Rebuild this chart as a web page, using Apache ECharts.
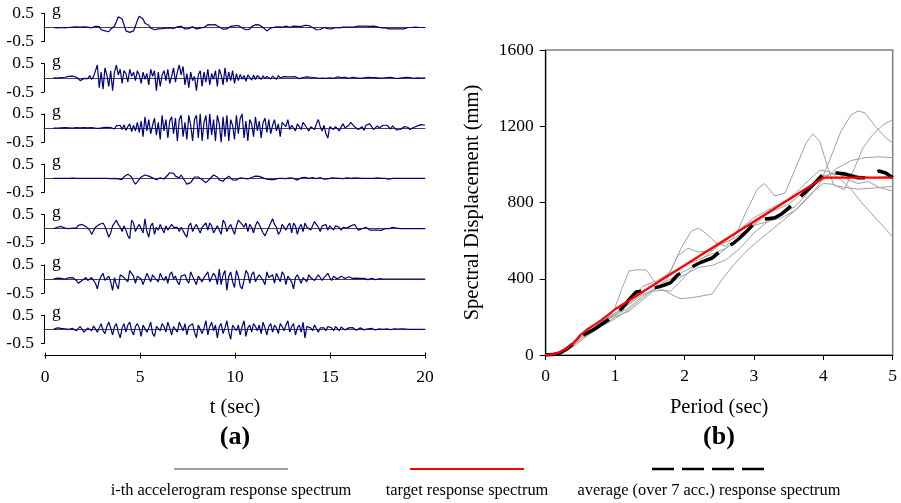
<!DOCTYPE html>
<html><head><meta charset="utf-8">
<script src="https://cdn.jsdelivr.net/npm/echarts@6/dist/echarts.min.js"></script>
<style>html,body{margin:0;padding:0;background:#fff}#c{width:901px;height:503px}</style>
</head><body><div id="c"></div>
<script>
// ---------- DATA ----------
const accT0 = 0.5, accDt = 0.1; // sampling of the accelerograms (s)
const acc1 = [0,0.01,-0.01,0.01,0,
0.01,-0.01,0.02,0,-0.01,0.01,0,0.02,-0.01,0.01,
0,0.02,-0.02,0.01,0.03,-0.01,0.02,0.04,-0.02,0.03,
-0.08,-0.03,-0.12,-0.05,-0.15,-0.06,-0.1,0.05,0.2,0.38,
0.42,0.3,0.1,-0.12,-0.16,-0.17,-0.15,-0.12,0.05,0.25,
0.4,0.42,0.3,0.15,0.1,0.08,-0.02,-0.09,-0.08,-0.04,
-0.05,-0.03,-0.04,0.01,-0.02,0.02,-0.01,0.01,-0.03,0.01,
0.02,-0.02,0.04,-0.03,-0.05,0.02,-0.04,-0.02,0.03,-0.03,
-0.05,0.02,-0.02,0.03,0.01,0.06,0.1,0.08,0.09,0.12,
0.1,0.06,0.02,-0.03,-0.06,-0.08,-0.05,0.01,0.04,0.08,
0.06,0.02,0.07,0.04,-0.02,-0.05,-0.08,-0.04,-0.06,0.03,
0.07,0.1,0.08,0.09,0.05,0,-0.06,-0.12,-0.06,-0.02,
-0.04,0.01,-0.01,0.02,-0.02,0.01,0.04,0.05,0.03,0.01,
0.02,0.05,0.06,0.04,0.01,0.03,0.06,0.08,0.09,0.07,
0.05,0,-0.06,-0.08,-0.09,-0.07,-0.03,0,-0.02,-0.04,
-0.03,-0.05,-0.02,0,0.01,-0.01,0,0.01,0,0.01,
0,0.01,0,0.02,0.04,0.05,0.05,0.05,0.04,0.05,
0.05,0.04,0.05,0.05,0.04,0.02,0,-0.01,0,-0.01,
-0.03,-0.05,-0.06,-0.05,-0.06,-0.05,-0.06,-0.05,-0.04,-0.05,
-0.03,0,0.01,0,0,0.01,0,0,0.01,0,0];
const acc2 = [0,0,-0.01,0,0.01,
-0.01,0.02,0.01,0.05,0.04,0.06,0.03,0.02,-0.05,-0.1,
-0.08,-0.02,0.05,-0.03,0.08,-0.06,0.04,0.1,0.45,-0.35,
0.2,-0.4,0.35,0.1,-0.3,0.25,-0.45,0.2,0.45,0.1,
0.3,-0.2,0.25,0.15,-0.15,0.3,0.05,0.2,-0.1,0.25,
0.1,-0.2,0.2,-0.05,0.15,-0.25,0.3,0.05,0.25,-0.45,
0.2,-0.3,0.1,0.25,-0.1,0.3,-0.2,0.05,0.35,-0.15,
0.2,0.45,0.1,0.4,-0.25,0.15,-0.35,0.2,-0.1,0.05,
-0.45,0.1,0.25,-0.3,0.2,-0.15,0.3,-0.25,0.15,-0.05,
0.25,-0.3,0.3,0.1,-0.25,0.35,-0.15,0.2,-0.1,0.25,
-0.2,0.15,-0.1,0.12,-0.05,0.08,-0.12,0.1,0.05,-0.08,
0.1,-0.06,0.08,0.03,-0.05,0.07,-0.03,0.05,0.02,-0.04,
0.06,0.02,-0.05,0.08,0,-0.03,0.04,-0.02,0.03,-0.04,
0.03,-0.02,0.04,0,-0.03,0.02,0.01,-0.02,0.03,-0.01,
0.02,-0.03,0.01,0.02,-0.02,0.01,-0.01,0.02,-0.02,0.01,
0,0.02,-0.02,0.01,0.03,-0.01,0.01,-0.02,0.02,0,
-0.02,0.01,0.02,-0.01,0,0.02,-0.02,0.01,0,-0.01,
0.02,-0.01,0.01,-0.02,0.01,0,-0.01,0.02,-0.01,0,
0.01,-0.02,0.02,0.03,-0.01,0.01,-0.02,0.01,0,-0.01,
0.02,-0.01,0.01,0.02,-0.02,0.01,0,0.01,-0.01,0,0];
const acc3 = [0,0.01,0,-0.01,0.01,
0,0.02,-0.01,0.01,0.02,0,-0.01,0.02,0,0.01,
-0.01,0.02,0,0.01,-0.01,0.02,0.01,0,0.02,-0.01,
0.01,0.02,0,0.03,-0.02,0.02,0.05,-0.03,0.08,0.02,
0.1,-0.05,0.12,-0.08,0.05,0.15,-0.12,0.1,-0.1,0.2,
-0.15,0.25,-0.3,0.4,-0.1,0.3,-0.2,0.1,0.35,-0.25,
0.2,-0.4,0.45,-0.1,0.3,-0.35,0.25,0.4,-0.2,0.35,
-0.45,0.3,0.45,-0.3,0.2,-0.4,0.45,0.1,-0.45,0.3,
0.45,-0.35,0.5,-0.45,0.2,0.45,-0.4,0.5,-0.25,0.3,
-0.45,0.45,0.15,-0.5,0.4,-0.3,0.45,-0.45,0.3,0.1,
-0.4,0.45,-0.2,0.35,0.5,-0.35,0.25,-0.45,0.3,0.15,
-0.3,0.4,-0.1,0.25,-0.35,0.2,0.35,-0.15,0.3,-0.2,
0.1,0.3,-0.1,0.15,-0.3,0.2,0.25,0.05,0.3,-0.05,
0.1,0.05,-0.1,0.15,0.05,-0.05,0.2,0.1,0.15,-0.1,
0.05,0.1,-0.05,0.15,0.3,0.05,-0.1,0.1,-0.2,-0.35,
0.05,0.1,-0.05,0.05,0.1,-0.1,0.05,0.15,0,-0.05,
0.1,0.2,0.15,0.05,0.1,-0.05,0,0.05,-0.08,0.1,
0.05,0.15,0.1,-0.05,0.02,0.08,0,-0.05,0.1,0.05,
0.1,0.05,-0.03,0.08,0.02,-0.06,-0.1,-0.05,0.02,0.05,
-0.02,0.03,-0.05,0,0.02,0.05,0.08,0.1,0.12,0.15,0.1];
const acc4 = [0,0,0,0,0,
0,0,0,0,0,0.01,0,0,0,0,
0,0,0,0,0,0,0,0,-0.02,0,
0,0,0,0,0,-0.01,0.02,0,-0.03,-0.02,
0.03,-0.04,0.06,0.1,0.15,0.12,0.05,-0.1,-0.2,-0.12,
-0.05,0.05,0.1,0.12,0.15,0.08,0.1,0.02,0.04,-0.05,
-0.03,0.02,0,-0.02,0.05,0.12,0.2,0.15,0.18,0.08,
0.1,0.02,0.12,0.05,-0.1,-0.2,-0.25,-0.15,-0.05,0.05,
0.1,0.05,0.08,-0.05,-0.1,-0.15,-0.08,-0.02,0.05,0.12,
0.1,0.05,-0.05,-0.12,-0.1,-0.02,0.04,0.08,0.05,-0.05,
-0.1,-0.06,-0.02,0.02,-0.01,0,0.02,-0.02,0.01,0.03,
0.05,0.08,0.06,0.07,0.04,0.02,0,-0.03,-0.05,-0.04,
-0.06,-0.04,-0.02,0,0.01,0,-0.02,-0.01,0.01,0.02,
0.01,0,-0.04,-0.06,-0.02,0.02,0.03,0.04,0.02,0,
0.02,0.03,0.01,-0.01,0.02,0.03,0.01,-0.03,-0.05,-0.02,
0,0.02,0.03,0.01,0.02,0,-0.02,-0.01,0,0.02,
0.01,0,0,0.02,0.03,0.01,0,0,0.01,0,
0,0,0.01,0,0,0.02,0.03,0,0,0,
-0.02,-0.03,-0.02,0,0,0,0,0,0,0,
0,0,0,0,0,0,0,0,0,0,0];
const acc5 = [0,0.02,0.05,0.12,0.08,
0.05,0.02,0.04,0,0.06,0.02,-0.02,0.03,0.12,0.05,
0.15,0.1,0.08,0.12,-0.05,-0.2,-0.15,0.05,0.1,0.15,
0.18,0.2,0.08,-0.1,-0.3,-0.15,0.1,0.2,0.3,0.15,
0.05,-0.1,0.1,-0.05,-0.25,-0.35,0.3,0.2,-0.1,0.05,
0.15,0.1,-0.15,0.35,-0.1,-0.3,0.1,0.2,-0.2,0.05,
-0.05,0.15,0.2,-0.15,0.1,-0.05,0.05,0.15,0.05,0.1,
0.05,-0.1,0.05,0.1,-0.2,-0.3,0.1,0.2,-0.1,0.05,
0.15,0.1,-0.15,0.05,0.1,0.2,-0.05,0.2,0.1,-0.15,
-0.2,0.1,0.15,-0.2,0.3,0.2,-0.1,0.05,0.15,0.2,
-0.2,0.1,0.3,0.35,0.15,0.05,0.2,-0.1,0.15,0.05,
-0.15,0.1,0.25,0.15,0.1,-0.15,-0.25,-0.1,0.05,0.1,
0.35,0.15,0.05,-0.2,-0.1,0.15,0.1,-0.05,0.1,0.2,
-0.15,0.2,0.1,-0.2,0.05,0.15,-0.1,0.2,0.05,0.1,
-0.05,0.1,0.25,0.15,0.05,-0.1,0.1,0.05,0.15,-0.05,
0.1,0.05,-0.05,0.1,0.15,0.05,-0.05,0.05,0.1,0.02,
0.08,0.1,0.05,0.15,0.05,-0.05,0.02,0,-0.05,0.05,
0,-0.05,-0.08,-0.05,-0.1,-0.05,-0.08,-0.06,-0.04,0,
0.02,0,0.03,0.05,0,0.02,0,0,0,0,
0,0,0,0,0,0,0,0,0,0,0];
const acc6 = [0,0.02,0.03,0.01,0.02,
0.03,0,-0.02,0.04,0.02,0.05,0.03,-0.05,-0.15,-0.2,
-0.05,0,0.05,-0.05,-0.1,0.05,0.08,-0.15,-0.35,-0.05,
0.1,0.2,-0.05,0,0.1,-0.1,-0.4,0.05,-0.2,-0.35,
0.15,0.1,0.05,0.1,-0.1,0.3,0.2,0.1,-0.15,0.1,
0.05,0,-0.2,-0.15,0.2,0.05,-0.1,0.15,0.05,0.1,
-0.1,0.2,0.05,-0.05,0.1,-0.15,0.15,0.25,0,0.1,
-0.1,-0.2,0.1,0.05,0.15,-0.05,-0.15,0.25,0.1,-0.05,
-0.2,0.1,0.15,-0.1,0.05,0.15,0.25,-0.1,0.05,0.2,
0.1,-0.2,0.35,-0.2,0.15,0.3,-0.4,0.1,0.25,-0.1,
-0.3,0.3,0.1,-0.25,-0.35,-0.05,0.3,0.2,-0.15,0.15,
0.25,-0.1,0.05,0.15,0.1,-0.05,-0.2,0.25,0.05,0.1,
0.15,-0.15,0.2,0.05,-0.1,0.25,0.15,-0.2,0.1,0.05,
-0.1,-0.35,0.05,0.15,0.1,-0.15,0.05,0.1,-0.1,0.15,
0.05,0.1,-0.05,0.05,0.15,0.1,-0.05,0.05,0.1,0.2,
0.05,-0.05,0.1,0.05,0,-0.05,0.1,0.05,0.02,0.05,
0.08,0.05,0.02,0.05,0.03,0,0.02,0.04,0.02,0,
-0.02,0,0.02,0,-0.02,0,0.01,-0.02,0,0.02,
0,-0.02,0,0.02,0,-0.01,0,0,0,0,
0,0,0,0,0,0,0,0,0,0,0];
const acc7 = [0,0.02,0.05,0.1,0.03,
-0.02,0.02,0.05,0,-0.05,0.03,0.08,-0.05,0.02,0.1,
0.05,-0.1,-0.15,0.05,0.1,-0.05,0.12,0.15,-0.1,0.05,
0.2,-0.05,-0.15,0.1,0.25,0.05,-0.2,0.1,0.2,-0.1,
-0.3,0.05,0.2,-0.1,0.15,0.25,-0.05,-0.2,0.1,0.2,
0.05,-0.25,0.15,0.2,-0.1,0.05,0.25,-0.15,-0.25,0.1,
0.15,-0.05,0.2,0.1,-0.1,0.25,0.05,-0.2,0.1,0.15,
-0.1,0.25,0.1,-0.05,0.2,-0.2,0.1,0.05,0.2,-0.1,
-0.3,0.15,0.2,-0.15,0.05,0.3,-0.2,0.1,0.25,-0.05,
0.15,-0.3,0.1,0.2,-0.15,0.05,0.3,-0.1,-0.35,0.15,
0.2,-0.05,0.15,-0.2,0.1,0.3,-0.25,0.05,0.15,-0.1,
0.2,0.1,-0.05,0.15,-0.15,0.25,0.05,-0.2,0.1,0.2,
-0.1,0.15,0.05,-0.15,0.2,0.1,-0.05,0.15,0.3,-0.1,
0.1,0.2,-0.2,0.05,0.15,-0.1,0.25,-0.3,0.1,0.15,
0.05,-0.05,0.15,0.1,-0.1,0.05,0.1,0.05,-0.05,0.1,
0.15,0.05,-0.05,0.1,0.05,-0.05,0.08,0.05,-0.02,0.05,
0.05,0.02,0.06,0.03,-0.03,0.02,0.05,0.02,-0.02,0.03,
0.02,0.01,0.03,0,-0.02,0,0.02,0.01,0,0.01,
0.02,0,-0.01,0.01,0.02,0,0.01,0,0.02,0.03,
0.01,0,0,0,0,0,0,0,0,0,0];
const accelerograms = [acc1, acc2, acc3, acc4, acc5, acc6, acc7];
const accTicks = [-0.5, 0.5];
const accUnit = 'g';

// response spectra: [period (s), spectral displacement (mm)]
const spec1 = [[0,0],[0.2,10],[0.4,60],[0.6,125],[0.8,165],[0.9,185],[1.0,250],[1.1,350],[1.2,440],[1.3,447],[1.45,446],[1.55,395],[1.65,342],[1.8,335],[1.95,390],[2.1,450],[2.3,520],[2.5,575],[2.7,610],[2.9,655],[3.1,720],[3.3,760],[3.5,790],[3.7,850],[3.9,900],[4.1,950],[4.3,960],[4.5,940],[4.7,930],[4.9,935],[5.0,936]];
const spec2 = [[0,0],[0.2,8],[0.4,50],[0.6,115],[0.8,170],[1.0,210],[1.2,270],[1.4,330],[1.6,380],[1.8,440],[1.95,560],[2.1,650],[2.2,665],[2.3,640],[2.45,590],[2.6,570],[2.75,640],[2.9,760],[3.05,870],[3.15,900],[3.3,835],[3.45,850],[3.6,980],[3.75,1110],[3.85,1160],[3.95,1120],[4.05,1000],[4.15,890],[4.3,880],[4.5,870],[4.7,875],[4.9,882],[5.0,884]];
const spec3 = [[0,0],[0.2,15],[0.4,65],[0.6,120],[0.8,150],[1.0,190],[1.2,240],[1.4,300],[1.6,360],[1.8,400],[2.0,440],[2.2,480],[2.4,500],[2.6,560],[2.8,620],[3.0,680],[3.2,700],[3.4,720],[3.6,760],[3.8,830],[3.95,900],[4.1,1030],[4.25,1170],[4.4,1260],[4.5,1280],[4.6,1270],[4.75,1200],[4.9,1140],[5.0,1113]];
const spec4 = [[0,0],[0.2,14],[0.4,70],[0.6,135],[0.8,180],[1.0,220],[1.2,265],[1.4,320],[1.55,335],[1.7,340],[1.85,310],[1.94,296],[2.1,300],[2.25,310],[2.4,320],[2.55,400],[2.7,470],[2.85,530],[3.0,580],[3.2,640],[3.4,700],[3.6,760],[3.8,840],[4.0,900],[4.15,895],[4.3,866],[4.45,980],[4.57,1085],[4.7,1150],[4.85,1205],[5.0,1234]];
const spec5 = [[0,0],[0.2,12],[0.4,55],[0.6,110],[0.8,175],[1.0,215],[1.2,280],[1.4,360],[1.6,390],[1.8,430],[2.0,470],[2.2,500],[2.4,530],[2.6,560],[2.8,620],[3.0,680],[3.2,740],[3.4,790],[3.6,850],[3.8,920],[3.95,970],[4.1,960],[4.25,920],[4.4,870],[4.55,800],[4.7,740],[4.85,680],[5.0,620]];
const spec6 = [[0,0],[0.2,9],[0.4,45],[0.6,100],[0.8,150],[1.0,200],[1.2,230],[1.4,290],[1.6,350],[1.75,400],[1.9,520],[2.05,560],[2.2,540],[2.4,550],[2.6,600],[2.8,660],[3.0,720],[3.2,760],[3.4,800],[3.6,840],[3.8,880],[4.0,920],[4.2,980],[4.4,1020],[4.6,1035],[4.8,1040],[5.0,1035]];
const spec7 = [[0,0],[0.2,11],[0.4,60],[0.6,125],[0.8,170],[1.0,205],[1.2,250],[1.4,310],[1.6,355],[1.8,380],[2.0,420],[2.2,460],[2.4,470],[2.6,500],[2.8,560],[3.0,640],[3.2,700],[3.4,740],[3.6,780],[3.8,860],[4.0,940],[4.2,955],[4.35,920],[4.5,900],[4.65,910],[4.8,880],[5.0,860]];
const spectra = [spec1, spec2, spec3, spec4, spec5, spec6, spec7];
const targetSpectrum = [[0,0],[0.1,3],[0.2,15],[0.3,33],[0.4,62],[0.5,105],[0.6,135],[0.7,158],[0.8,183],[0.9,210],[1.0,240],[4.0,930],[5.0,930]];
const averageSpectrum = [[0,0],[0.1,2],[0.2,10],[0.3,30],[0.4,60],[0.5,95],[0.6,115],[0.7,135],[0.8,160],[0.9,185],[1.0,215],[1.1,245],[1.2,290],[1.3,330],[1.4,335],[1.5,345],[1.6,355],[1.7,365],[1.8,380],[1.9,420],[2.0,440],[2.1,460],[2.2,480],[2.3,495],[2.4,510],[2.5,540],[2.6,565],[2.7,585],[2.8,615],[2.9,650],[3.0,690],[3.1,710],[3.2,715],[3.3,720],[3.4,740],[3.5,770],[3.6,810],[3.7,840],[3.8,875],[3.9,910],[4.0,950],[4.1,955],[4.2,955],[4.3,950],[4.4,940],[4.5,930],[4.6,930],[4.7,945],[4.8,965],[4.9,955],[5.0,930]];

const legendLabels = ['i-th accelerogram response spectrum', 'target response spectrum', 'average (over 7 acc.) response spectrum'];
const panelLabels = ['(a)', '(b)'];

// ---------- CHART ----------
const FONT = "'Liberation Serif','Times New Roman',serif";
const chart = echarts.init(document.getElementById('c'), null, {renderer: 'canvas'});
const rowTop0 = 13.3, rowStep = 50.3, rowH = 28.4, accLeft = 44, accWidth = 381;
const grids = [], xAxes = [], yAxes = [], series = [], graphics = [];
const plain = v => String(v);

accelerograms.forEach((a, i) => {
  const top = rowTop0 + rowStep * i;
  grids.push({left: accLeft, top: top, width: accWidth, height: rowH});
  xAxes.push({gridIndex: i, type: 'value', min: 0, max: 20,
    axisLine: {onZero: true, lineStyle: {color: '#444', width: 1}},
    axisTick: {show: false}, axisLabel: {show: false}, splitLine: {show: false}});
  yAxes.push({gridIndex: i, type: 'value', min: -0.5, max: 0.5,
    axisLine: {show: true, onZero: false, lineStyle: {color: '#000', width: 1}},
    axisTick: {show: true, customValues: accTicks, length: 3, lineStyle: {color: '#000'}},
    axisLabel: {customValues: accTicks, fontSize: 17.5, fontFamily: FONT, color: '#000', margin: 10, formatter: plain},
    splitLine: {show: false}});
  series.push({type: 'line', xAxisIndex: i, yAxisIndex: i, silent: true, showSymbol: false,
    data: a.map((v, k) => [accT0 + k * accDt, v]),
    lineStyle: {color: '#000080', width: 1.2}});
  graphics.push({type: 'text', left: accLeft + 8, top: top - 11.5,
    style: {text: accUnit, font: '17.5px ' + FONT, fill: '#000'}});
});

// shared time axis (grid 7)
grids.push({left: 45, top: 345, width: 380, height: 10.5});
const timeAxisBase = {gridIndex: 7, type: 'value', min: 0, max: 20, interval: 5, position: 'bottom',
  axisLine: {show: true, lineStyle: {color: '#000', width: 1}}, splitLine: {show: false}};
xAxes.push(Object.assign({}, timeAxisBase, {axisTick: {inside: true, length: 3, lineStyle: {color: '#000'}}, axisLabel: {show: false}}));
xAxes.push(Object.assign({}, timeAxisBase, {
  axisTick: {inside: false, length: 3, lineStyle: {color: '#000'}},
  axisLabel: {fontSize: 17.5, fontFamily: FONT, color: '#000', margin: 12.5, formatter: plain},
  name: 't (sec)', nameLocation: 'middle', nameGap: 42,
  nameTextStyle: {fontSize: 20.5, fontFamily: FONT, color: '#000'}}));
yAxes.push({gridIndex: 7, type: 'value', show: false, min: 0, max: 1});

// spectra grid (grid 8)
grids.push({left: 545.7, top: 50, width: 347, height: 305, show: true, borderColor: '#808080', borderWidth: 1.5, backgroundColor: 'transparent'});
xAxes.push({gridIndex: 8, type: 'value', min: 0, max: 5, interval: 1,
  axisLine: {show: true, onZero: false, lineStyle: {color: '#000', width: 1.2}},
  axisTick: {length: 5, lineStyle: {color: '#000'}},
  axisLabel: {fontSize: 17.5, fontFamily: FONT, color: '#000', margin: 12.5, formatter: plain},
  splitLine: {show: false},
  name: 'Period (sec)', nameLocation: 'middle', nameGap: 42,
  nameTextStyle: {fontSize: 20.5, fontFamily: FONT, color: '#000'}});
yAxes.push({gridIndex: 8, type: 'value', min: 0, max: 1600, interval: 400,
  axisLine: {show: true, onZero: false, lineStyle: {color: '#000', width: 1.2}},
  axisTick: {show: true, length: 6, lineStyle: {color: '#000'}},
  axisLabel: {fontSize: 17.5, fontFamily: FONT, color: '#000', margin: 12, formatter: plain},
  splitLine: {show: false},
  name: 'Spectral Displacement (mm)', nameLocation: 'middle', nameGap: 63,
  nameTextStyle: {fontSize: 20.5, fontFamily: FONT, color: '#000'}});
const specX = xAxes.length - 1, specY = yAxes.length - 1;

spectra.forEach(s => series.push({type: 'line', xAxisIndex: specX, yAxisIndex: specY, silent: true,
  showSymbol: false, data: s, lineStyle: {color: '#a0a0a0', width: 1}}));
series.push({type: 'line', xAxisIndex: specX, yAxisIndex: specY, silent: true, showSymbol: false,
  data: averageSpectrum, lineStyle: {color: '#000', width: 3.5, type: [30, 14]}});
series.push({type: 'line', xAxisIndex: specX, yAxisIndex: specY, silent: true, showSymbol: false,
  data: targetSpectrum, lineStyle: {color: '#ff0000', width: 2.2}});

// panel labels
graphics.push({type: 'text', x: 235, y: 437, style: {text: panelLabels[0], font: 'bold 26px ' + FONT, fill: '#000', align: 'center', verticalAlign: 'middle'}});
graphics.push({type: 'text', x: 719, y: 437, style: {text: panelLabels[1], font: 'bold 26px ' + FONT, fill: '#000', align: 'center', verticalAlign: 'middle'}});

// legend (line samples above labels)
const legendCenters = [231, 467, 709];
const legY = 469, legTextY = 491, legHalf = 57;
graphics.push({type: 'line', shape: {x1: legendCenters[0] - legHalf, y1: legY, x2: legendCenters[0] + legHalf, y2: legY}, style: {stroke: '#a0a0a0', lineWidth: 2}});
graphics.push({type: 'line', shape: {x1: legendCenters[1] - legHalf, y1: legY, x2: legendCenters[1] + legHalf, y2: legY}, style: {stroke: '#ff0000', lineWidth: 2.2}});
graphics.push({type: 'line', shape: {x1: legendCenters[2] - legHalf, y1: legY, x2: legendCenters[2] + legHalf, y2: legY}, style: {stroke: '#000', lineWidth: 2.5, lineDash: [22, 8]}});
legendLabels.forEach((t, i) => graphics.push({type: 'text', x: legendCenters[i], y: legTextY,
  style: {text: t, font: '16.4px ' + FONT, fill: '#000', align: 'center', verticalAlign: 'middle'}}));

chart.setOption({
  animation: false,
  backgroundColor: '#fff',
  textStyle: {fontFamily: FONT},
  grid: grids, xAxis: xAxes, yAxis: yAxes, series: series, graphic: graphics
});
</script></body></html>
